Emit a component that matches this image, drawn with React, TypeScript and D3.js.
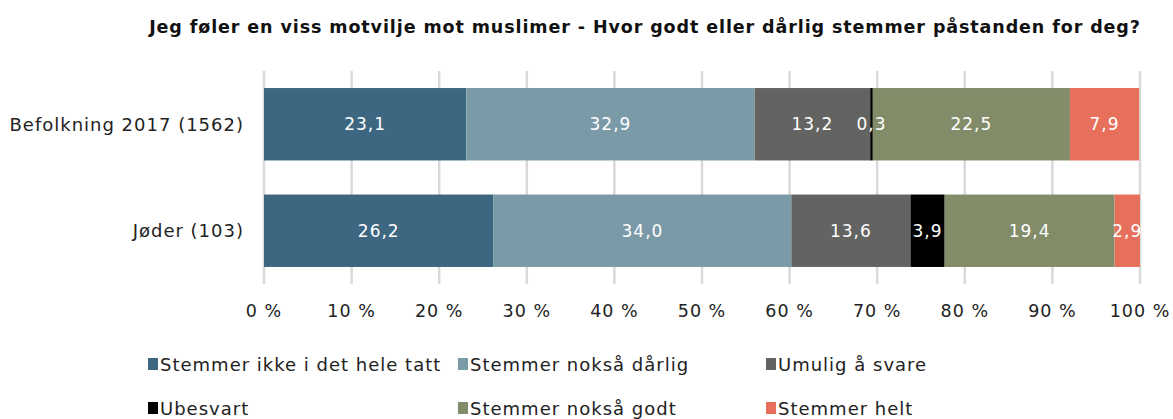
import React from "react";
import * as d3 from "d3";

const title = "Jeg føler en viss motvilje mot muslimer - Hvor godt eller dårlig stemmer påstanden for deg?";
const categories = ["Befolkning 2017 (1562)", "Jøder (103)"];
const seriesNames = ["Stemmer ikke i det hele tatt", "Stemmer nokså dårlig", "Umulig å svare", "Ubesvart", "Stemmer nokså godt", "Stemmer helt"];
const seriesColors = ["#3d6680", "#7b9aa8", "#636361", "#000000", "#838c69", "#e6705c"];
const befolkning = [23.1, 32.9, 13.2, 0.3, 22.5, 7.9];
const joder = [26.2, 34.0, 13.6, 3.9, 19.4, 2.9];
const ticks = [0, 10, 20, 30, 40, 50, 60, 70, 80, 90, 100];

const FONT = "'DejaVu Sans', 'Open Sans', sans-serif";

export default function App() {
  const W = 1173, H = 419;
  const x = d3.scaleLinear().domain([0, 100]).range([264, 1140]);
  const y = d3.scaleBand().domain(categories).range([71, 284]).paddingInner(0.32).paddingOuter(0.16);
  const fmt = (v: number) => v.toFixed(1).replace(".", ",");
  const legendCols = [148, 458, 766];
  const legendRows = [364, 408];

  const segs = [befolkning, joder].map((vals) => {
    let cum = 0;
    return vals.map((v) => {
      const a = cum;
      cum += v;
      return { v, x0: x(a), x1: x(cum) };
    });
  });

  return (
    <svg width={W} height={H} style={{ position: "absolute", left: 0, top: 0, fontFamily: FONT }}>
      <rect width={W} height={H} fill="#fff" />
      <text x={645} y={33} textAnchor="middle" fontSize={17.5} letterSpacing={0.9} fontWeight="bold" fill="#111">{title}</text>
      {ticks.map((t) => (
        <line key={t} x1={x(t)} x2={x(t)} y1={71} y2={284} stroke="#d9d9d9" strokeWidth={2.5} />
      ))}
      {categories.map((cat, ri) => {
        const y0 = y(cat)!;
        const bh = y.bandwidth();
        return (
          <g key={cat}>
            <text x={244} y={y0 + bh / 2} textAnchor="end" dominantBaseline="central" fontSize={18} letterSpacing={1} fill="#222">{cat}</text>
            {segs[ri].map((s, si) => (
              <rect key={si} x={s.x0} y={y0} width={s.x1 - s.x0} height={bh} fill={seriesColors[si]} />
            ))}
            {segs[ri].map((s, si) => (
              <text key={"t" + si} x={(s.x0 + s.x1) / 2} y={y0 + bh / 2} textAnchor="middle" dominantBaseline="central" fontSize={17} letterSpacing={1} fill="#fff">{fmt(s.v)}</text>
            ))}
          </g>
        );
      })}
      {ticks.map((t) => (
        <text key={t} x={x(t)} y={311} textAnchor="middle" dominantBaseline="central" fontSize={17.5} letterSpacing={1} fill="#222">{`${t} %`}</text>
      ))}
      {seriesNames.map((n, i) => {
        const cx = legendCols[i % 3];
        const cy = legendRows[Math.floor(i / 3)];
        return (
          <g key={n}>
            <rect x={cx} y={cy - 6} width={10} height={12} fill={seriesColors[i]} />
            <text x={cx + 12} y={cy} dominantBaseline="central" fontSize={18} letterSpacing={1} fill="#222">{n}</text>
          </g>
        );
      })}
    </svg>
  );
}
